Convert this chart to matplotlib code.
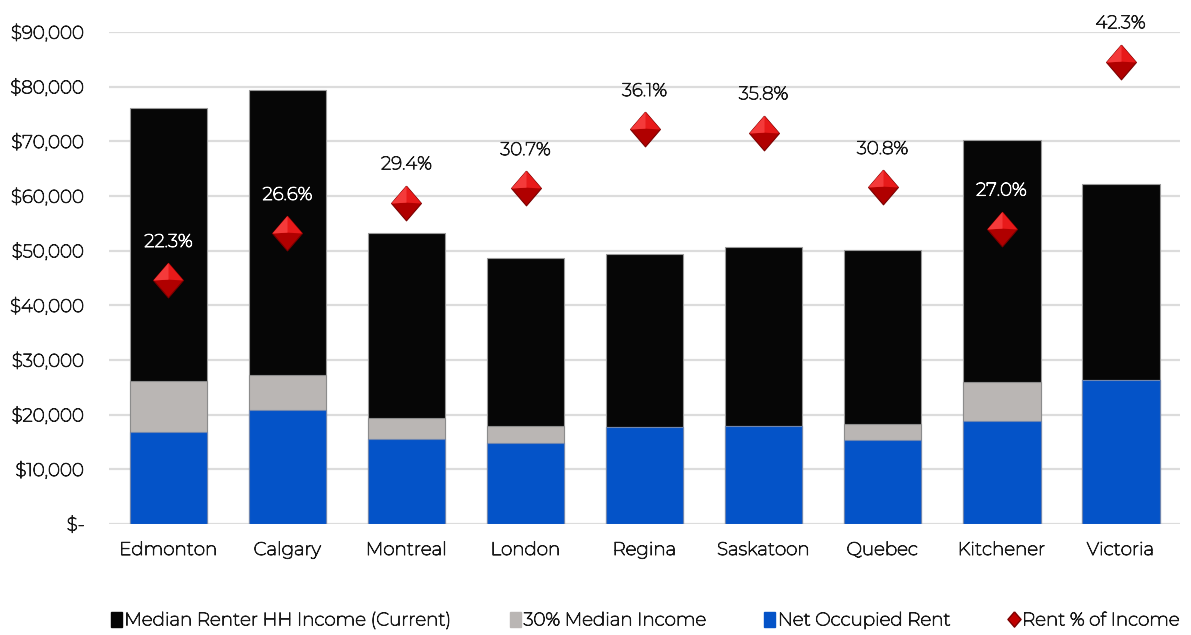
import numpy as np
import matplotlib.pyplot as plt
import matplotlib.patheffects as pe
from matplotlib.lines import Line2D
from matplotlib.patches import Patch

# Montserrat is only installed as a thin variable font; a stroke thickens it
plt.rcParams['font.family'] = ['Montserrat', 'DejaVu Sans']
TXT = '#1a1a1a'
FS = 13.2

# --- Data ---
cities = ['Edmonton', 'Calgary', 'Montreal', 'London', 'Regina',
          'Saskatoon', 'Quebec', 'Kitchener', 'Victoria']
median_income = [76100, 79400, 53200, 48700, 49400, 50700, 50100, 70200, 62200]
thirty_pct = [26100, 27200, 19400, 17900, 17700, 17900, 18300, 26000, 26300]
net_rent = [16900, 20900, 15500, 14900, 17700, 17900, 15400, 18800, 26300]
rent_pct = [22.3, 26.6, 29.4, 30.7, 36.1, 35.8, 30.8, 27.0, 42.3]

BLACK = '#060606'
GREY = '#bab6b4'
BLUE = '#0453c8'


def thick(color):
    return [pe.withStroke(linewidth=0.65, foreground=color)]


fig = plt.figure(figsize=(11.91, 6.35), dpi=100)
ax = fig.add_axes([0.0915, 0.1748, 0.8993, 0.7748])
x = np.arange(len(cities))
w = 0.655

ax.bar(x, median_income, w, color=BLACK, edgecolor='#9a9a9a', lw=0.8, zorder=2)
ax.bar(x, thirty_pct, w, color=GREY, edgecolor='#8c8c8c', lw=0.8, zorder=3)
ax.bar(x, net_rent, w, color=BLUE, edgecolor='#6f86b0', lw=0.8, zorder=4)

ax.set_xlim(-0.5, len(cities) - 0.5)
ax.set_ylim(0, 90000)
ax.set_yticks(np.arange(0, 90001, 10000))
ax.set_yticklabels(['$-'] + [f'${v:,.0f}' for v in np.arange(10000, 90001, 10000)])
ax.set_xticks(x)
ax.set_xticklabels(cities)
ax.tick_params(axis='both', length=0, labelsize=FS, colors=TXT)
ax.tick_params(axis='y', pad=17.5)
ax.tick_params(axis='x', pad=13)
for lbl in ax.get_xticklabels() + ax.get_yticklabels():
    lbl.set_path_effects(thick(TXT))
ax.grid(axis='y', color='#dcdcdc', lw=1.6, zorder=0)
ax.set_axisbelow(True)
for s in ax.spines.values():
    s.set_visible(False)

# rent share on a hidden secondary scale
ax2 = ax.twinx()
ax2.set_ylim(0, 45)
ax2.axis('off')
diamond = [(0, 1), (0.86, 0), (0, -1), (-0.86, 0), (0, 1)]
ax2.plot(x, rent_pct, ls='none', marker=diamond, ms=25, mfc='#b00000',
         mec='#7a0000', mew=0.8, zorder=5, clip_on=False)
# lighter upper facets give the gem shading
ax2.plot(x, rent_pct, ls='none', marker=[(0, 1), (0.86, 0), (0, 0.05), (-0.86, 0), (0, 1)],
         ms=25, mfc='#e81a1a', mec='none', zorder=6, clip_on=False)
ax2.plot(x, rent_pct, ls='none', marker=[(0, 1), (0, 0.05), (-0.86, 0), (0, 1)],
         ms=25, mfc='#f43a3a', mec='none', zorder=6, clip_on=False)
for xi, p, inc in zip(x, rent_pct, median_income):
    # label sits inside the black bar when the bar reaches above it
    label_y = (p * 2000) + 7000
    col = 'white' if inc > label_y else TXT
    ax2.annotate(f'{p:.1f}%', (xi, p), xytext=(0, 27.5), textcoords='offset points',
                 ha='center', va='center', fontsize=FS, color=col, zorder=7,
                 annotation_clip=False, path_effects=thick(col))

handles = [Patch(color=BLACK), Patch(color=GREY), Patch(color=BLUE),
           Line2D([], [], ls='none', marker=diamond, ms=11, mfc='#c00000', mec='#7a0000')]
labels = ['Median Renter HH Income (Current)', '30% Median Income',
          'Net Occupied Rent', 'Rent % of Income']
leg = fig.legend(handles, labels, loc='center', bbox_to_anchor=(0.542, 1 - 620 / 635), ncol=4,
                 frameon=False, fontsize=FS, handlelength=0.6, handleheight=0.9,
                 handletextpad=0.15, columnspacing=3.1, labelcolor=TXT)
for t in leg.get_texts():
    t.set_path_effects(thick(TXT))

fig.savefig('out.png', dpi=100)
